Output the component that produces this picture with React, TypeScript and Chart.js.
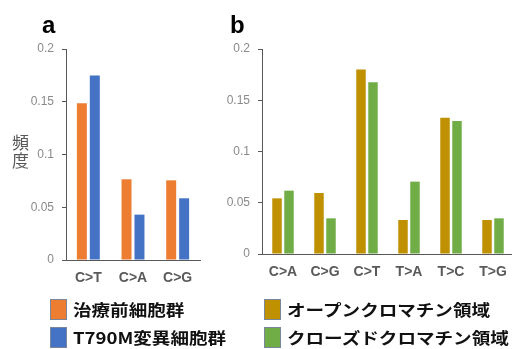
import React, { useEffect, useRef } from 'react';
import { Chart, registerables } from 'chart.js';

Chart.register(...registerables);

// ---- data ----
const CAT_A = ['C>T', 'C>A', 'C>G'];
const PRE_TREATMENT = [0.1485, 0.0765, 0.0755];
const T790M_CELLS = [0.175, 0.043, 0.0585];

const CAT_B = ['C>A', 'C>G', 'C>T', 'T>A', 'T>C', 'T>G'];
const OPEN_CHROMATIN = [0.0543, 0.0595, 0.18, 0.0332, 0.133, 0.0332];
const CLOSED_CHROMATIN = [0.0618, 0.0348, 0.1675, 0.0706, 0.1298, 0.0348];

const Y_MIN = 0;
const Y_MAX = 0.2;
const Y_STEP = 0.05;

const LEGEND_A = ['治療前細胞群', 'T790M変異細胞群'];
const LEGEND_B = ['オープンクロマチン領域', 'クローズドクロマチン領域'];
const Y_TITLE = ['頻', '度'];

const ORANGE = '#ED7D31';
const BLUE = '#4472C4';
const GOLD = '#BF9000';
const GREEN = '#70AD47';
const AXIS = '#595959';
const TICK = '#8a8a8a';
const SANS = '"Liberation Sans", Arial, sans-serif';
const CJK = '"Noto Sans CJK JP", "Noto Sans", sans-serif';

type PanelProps = {
  labels: string[];
  series: { label: string; data: number[]; color: string }[];
  left: number;
  width: number;
  height: number;
  padTop: number;
  padRight: number;
  yWidth: number;
  xHeight: number;
  catPct: number;
  barPct: number;
};

function BarPanel(p: PanelProps) {
  const ref = useRef<HTMLCanvasElement | null>(null);
  useEffect(() => {
    if (!ref.current) return;
    const chart = new Chart(ref.current, {
      type: 'bar',
      data: {
        labels: p.labels,
        datasets: p.series.map((s) => ({
          label: s.label,
          data: s.data,
          backgroundColor: s.color,
          borderWidth: 0,
          categoryPercentage: p.catPct,
          barPercentage: p.barPct,
        })),
      },
      options: {
        animation: false,
        responsive: false,
        maintainAspectRatio: false,
        devicePixelRatio: 1,
        layout: { padding: { top: p.padTop, right: p.padRight, left: 0, bottom: 0 } },
        plugins: { legend: { display: false }, tooltip: { enabled: false }, title: { display: false } },
        scales: {
          x: {
            grid: { display: false, drawTicks: false },
            border: { display: true, color: AXIS, width: 1 },
            ticks: {
              color: AXIS,
              font: { family: SANS, size: 14, weight: 'bold' },
              padding: 10,
              maxRotation: 0,
              autoSkip: false,
            },
            afterFit: (s: any) => {
              s.height = p.xHeight;
              s.paddingLeft = 0;
              s.paddingRight = 0;
            },
          },
          y: {
            min: Y_MIN,
            max: Y_MAX,
            grid: { display: true, drawOnChartArea: false, drawTicks: true, tickLength: 4, color: AXIS },
            border: { display: true, color: AXIS, width: 1 },
            ticks: {
              stepSize: Y_STEP,
              color: TICK,
              padding: 8,
              font: { family: SANS, size: 12 },
              callback: (v: any) => String(+Number(v).toFixed(2)),
            },
            afterFit: (s: any) => {
              s.width = p.yWidth;
              s.paddingTop = 0;
              s.paddingBottom = 0;
            },
          },
        },
      },
    } as any);
    return () => chart.destroy();
  }, []);
  return (
    <canvas
      ref={ref}
      width={p.width}
      height={p.height}
      style={{ position: 'absolute', left: p.left, top: 0, width: p.width, height: p.height }}
    />
  );
}

function LegendItem({ x, y, color, text }: { x: number; y: number; color: string; text: string }) {
  return (
    <>
      <div
        style={{
          position: 'absolute',
          left: x,
          top: y,
          width: 17,
          height: 21,
          background: color,
          border: '1px solid #7a869c',
          boxSizing: 'border-box',
        }}
      />
      <div
        style={{
          position: 'absolute',
          left: x + 23,
          top: y + 10 - 12,
          height: 24,
          lineHeight: '24px',
          fontFamily: CJK,
          fontWeight: 'bold',
          fontSize: 16,
          color: '#111',
          whiteSpace: 'nowrap',
          transform: 'scaleX(1.16)',
          transformOrigin: 'left center',
        }}
      >
        {text}
      </div>
    </>
  );
}

export default function App() {
  return (
    <div
      style={{
        position: 'fixed',
        left: 0,
        top: 0,
        width: 512,
        height: 349,
        overflow: 'hidden',
        background: '#fff',
      }}
    >
      <BarPanel
        labels={CAT_A}
        series={[
          { label: LEGEND_A[0], data: PRE_TREATMENT, color: ORANGE },
          { label: LEGEND_A[1], data: T790M_CELLS, color: BLUE },
        ]}
        left={0}
        width={210}
        height={300}
        padTop={49}
        padRight={10}
        yWidth={66}
        xHeight={40}
        catPct={0.58}
        barPct={0.77}
      />
      <BarPanel
        labels={CAT_B}
        series={[
          { label: LEGEND_B[0], data: OPEN_CHROMATIN, color: GOLD },
          { label: LEGEND_B[1], data: CLOSED_CHROMATIN, color: GREEN },
        ]}
        left={200}
        width={320}
        height={300}
        padTop={49}
        padRight={6}
        yWidth={62}
        xHeight={46}
        catPct={0.571}
        barPct={0.79}
      />
      <div
        style={{
          position: 'absolute',
          left: 42,
          top: 13,
          fontFamily: SANS,
          fontWeight: 'bold',
          fontSize: 24,
          lineHeight: '24px',
          color: '#000',
        }}
      >
        a
      </div>
      <div
        style={{
          position: 'absolute',
          left: 230,
          top: 13,
          fontFamily: SANS,
          fontWeight: 'bold',
          fontSize: 24,
          lineHeight: '24px',
          color: '#000',
        }}
      >
        b
      </div>
      <div
        style={{
          position: 'absolute',
          left: 12,
          top: 133,
          fontFamily: CJK,
          fontSize: 17,
          lineHeight: '18px',
          color: AXIS,
        }}
      >
        {Y_TITLE.map((c, i) => (
          <div key={i}>{c}</div>
        ))}
      </div>
      <LegendItem x={50} y={299} color={ORANGE} text={LEGEND_A[0]} />
      <LegendItem x={50} y={327} color={BLUE} text={LEGEND_A[1]} />
      <LegendItem x={264} y={299} color={GOLD} text={LEGEND_B[0]} />
      <LegendItem x={264} y={327} color={GREEN} text={LEGEND_B[1]} />
    </div>
  );
}
